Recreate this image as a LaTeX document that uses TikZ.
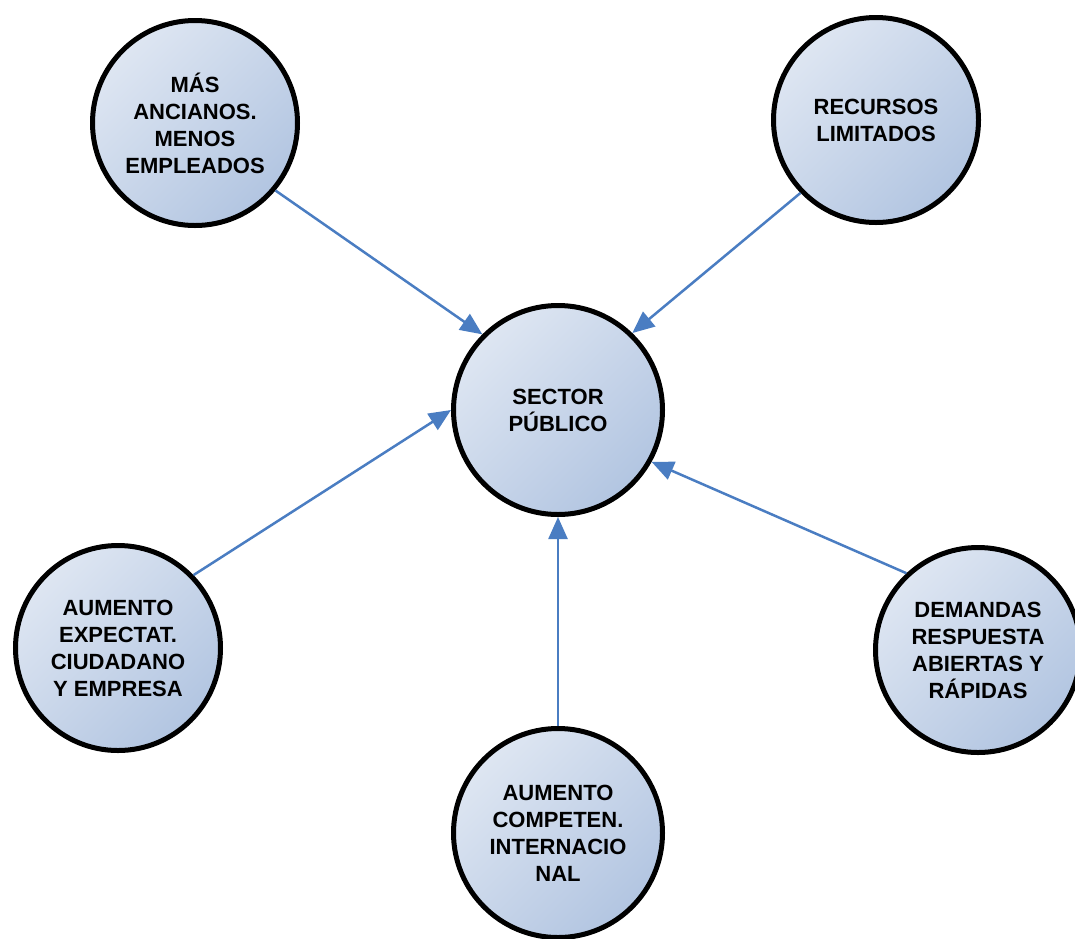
\documentclass[tikz,border=0pt]{standalone}
\usepackage{fontspec}
\setmainfont{Liberation Sans}
\usetikzlibrary{arrows.meta}
\definecolor{cA}{HTML}{DEE6F2}
\definecolor{cB}{HTML}{B2C5E1}
\definecolor{arr}{HTML}{4A7DC2}
\begin{document}
\begin{tikzpicture}[x=1pt,y=-1pt,
  bubble/.style={circle, draw=black, line width=5pt, top color=cA, bottom color=cB, shading angle=45,
    minimum size=205pt, inner sep=0pt, align=center, font=\fontsize{22}{27}\selectfont\bfseries},
  link/.style={draw=arr, line width=2.5pt, -{Triangle[length=22pt,width=19pt]}}]
\useasboundingbox (0,0) rectangle (1075,938);
\node[bubble] (tl) at (195,123) {MÁS\\ANCIANOS.\\MENOS\\EMPLEADOS};
\node[bubble] (tr) at (876,120) {RECURSOS\\LIMITADOS};
\node[bubble, minimum size=209pt] (c) at (558,410) {SECTOR\\PÚBLICO};
\node[bubble] (l) at (118,648) {AUMENTO\\EXPECTAT.\\CIUDADANO\\Y EMPRESA};
\node[bubble, minimum size=209pt] (b) at (558,833) {AUMENTO\\COMPETEN.\\INTERNACIO\\NAL};
\node[bubble] (r) at (978,650) {DEMANDAS\\RESPUESTA\\ABIERTAS Y\\RÁPIDAS};
\draw[link] (tl.320) -- (c.135);
\draw[link] (tr.224) -- (c.46);
\draw[link] (l.44) -- (c.180);
\draw[link] (b.90) -- (c.270);
\draw[link] (r.133) -- (c.331);
\end{tikzpicture}
\end{document}
